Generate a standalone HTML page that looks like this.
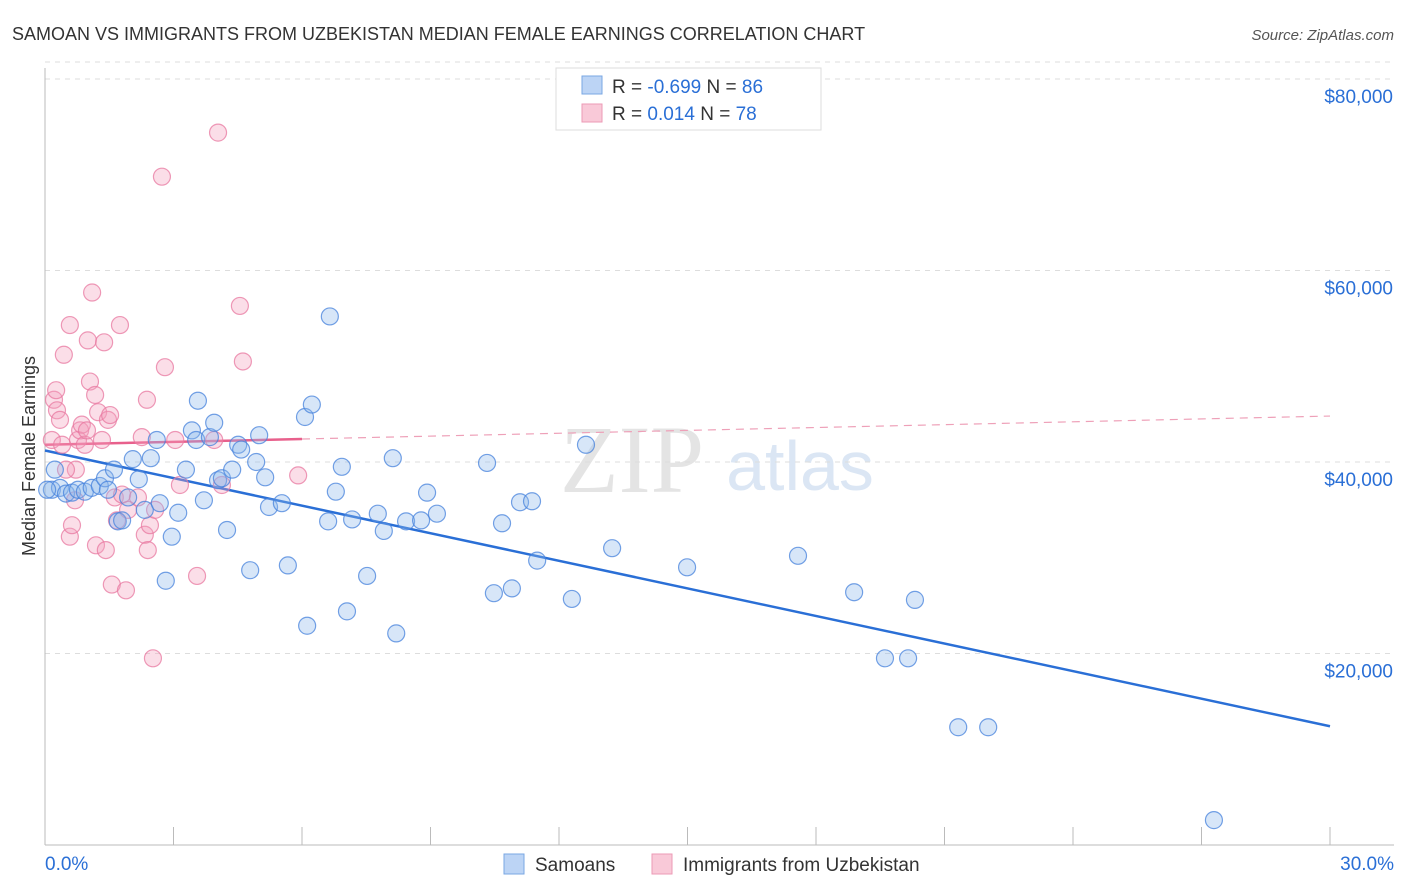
<!DOCTYPE html>
<html><head><meta charset="utf-8"><style>
body{margin:0;background:#fff;font-family:"Liberation Sans",sans-serif;}
svg{display:block}
</style></head><body>
<svg id="chart" width="1406" height="892">
<text x="12" y="40" font-size="18" fill="#333">SAMOAN VS IMMIGRANTS FROM UZBEKISTAN MEDIAN FEMALE EARNINGS CORRELATION CHART</text>
<text x="1394" y="40" font-size="15" fill="#555" font-style="italic" text-anchor="end">Source: ZipAtlas.com</text>
<text x="35" y="456" font-size="18" fill="#333" text-anchor="middle" transform="rotate(-90 35 456)">Median Female Earnings</text>
<g><text x="632" y="492" font-size="96" fill="#e4e4e4" font-family="Liberation Serif,serif" text-anchor="middle">ZIP</text><text x="800" y="490" font-size="70" fill="#dbe6f4" text-anchor="middle">atlas</text></g>
<g id="grid"></g><g id="axes"></g><g id="lines"></g><g id="pts"></g>
<g>
<rect x="556" y="68" width="265" height="62" fill="#fff" stroke="#ddd"/>
<rect x="582" y="76" width="20" height="18" fill="#bcd4f5" stroke="#7aa7e3"/>
<rect x="582" y="104" width="20" height="18" fill="#f9c9d8" stroke="#ec9ab6"/>
<text x="612" y="93" font-size="19" fill="#333">R = <tspan fill="#2a6fd6">-0.699</tspan>   N = <tspan fill="#2a6fd6">86</tspan></text>
<text x="612" y="120" font-size="19" fill="#333">R =   <tspan fill="#2a6fd6">0.014</tspan>   N = <tspan fill="#2a6fd6">78</tspan></text>
</g>
<g>
<rect x="504" y="854" width="20" height="20" fill="#bcd4f5" stroke="#7aa7e3"/>
<text x="535" y="871" font-size="19" fill="#333">Samoans</text>
<rect x="652" y="854" width="20" height="20" fill="#f9c9d8" stroke="#ec9ab6"/>
<text x="683" y="871" font-size="19" fill="#333">Immigrants from Uzbekistan</text>
</g>
</svg>
<script>
const yTicks=[20000,40000,60000,80000];
const yTickLabels=["$20,000","$40,000","$60,000","$80,000"];
const xTicks=[0,3,6,9,12,15,18,21,24,27,30];
const blueX=[0.16,0.23,0.35,0.49,0.63,0.77,0.93,1.09,1.28,1.40,1.47,1.61,1.70,1.80,1.94,2.05,2.19,2.33,2.47,2.61,2.68,2.82,2.96,3.11,3.29,3.43,3.53,3.57,3.71,3.85,3.95,4.04,4.13,4.25,4.37,4.51,4.58,4.79,4.93,5.00,5.14,5.23,5.53,5.67,6.07,6.12,6.23,6.65,6.61,6.79,6.93,7.05,7.17,7.52,7.77,7.91,8.12,8.20,8.43,8.78,8.92,9.15,10.32,10.48,10.67,10.90,11.09,11.37,11.49,12.30,12.63,13.24,14.99,17.58,18.89,19.61,20.15,20.31,21.32,22.02,27.29,0.05];
const blueY=[37.1,39.2,37.3,36.7,36.8,37.1,36.9,37.3,37.5,38.3,37.1,39.2,33.8,33.9,36.3,40.3,38.2,35.0,40.4,42.3,35.7,27.6,32.2,34.7,39.2,43.3,42.3,46.4,36.0,42.6,44.1,38.1,38.3,32.9,39.2,41.8,41.3,28.7,40.0,42.8,38.4,35.3,35.7,29.2,44.7,22.9,46.0,55.2,33.8,36.9,39.5,24.4,34.0,28.1,34.6,32.8,40.4,22.1,33.8,33.9,36.8,34.6,39.9,26.3,33.6,26.8,35.8,35.9,29.7,25.7,41.8,31.0,29.0,30.2,26.4,19.5,19.5,25.6,12.3,12.3,2.6,37.1];
const pinkX=[0.16,0.21,0.28,0.35,0.40,0.44,0.58,0.58,0.63,0.70,0.72,0.77,0.82,0.86,0.93,0.98,1.00,1.05,1.10,1.17,1.19,1.24,1.33,1.38,1.42,1.47,1.56,1.63,1.68,1.75,1.80,1.89,1.94,2.17,2.26,2.33,2.38,2.40,2.45,2.52,2.57,2.73,2.80,3.04,3.15,3.55,3.95,4.04,4.13,4.55,4.62,5.91,0.26,0.49,1.52];
const pinkY=[42.3,46.5,45.4,44.4,41.8,51.2,54.3,32.2,33.4,36.0,39.2,42.3,43.3,43.9,41.8,43.3,52.7,48.4,57.7,47.0,31.3,45.2,42.3,52.5,30.8,44.4,27.2,36.3,33.9,54.3,36.6,26.6,35.0,36.3,42.6,32.4,46.5,30.8,33.4,19.5,35.0,69.8,49.9,42.3,37.6,28.1,42.3,74.4,37.6,56.3,50.5,38.6,47.5,39.2,44.9];
const blueTrend=[41200,12400];
const pinkTrend=[41800,44800];
const pinkSolidEnd=6;
const NS="http://www.w3.org/2000/svg";
const X=v=>45+v/30*1285;
const Y=v=>845-v/20000*191.5;
function mk(p,t,a){const e=document.createElementNS(NS,t);for(const k in a)e.setAttribute(k,a[k]);document.getElementById(p).appendChild(e);return e;}
yTicks.forEach((t,i)=>{
 const g=mk('grid','line',{x1:45,x2:1394,y1:Y(t),y2:Y(t),stroke:'#ddd','stroke-dasharray':'5,5'});
 
 
 const l=mk('axes','text',{x:1393,y:Y(t)+24,'font-size':19,fill:'#2a6fd6','text-anchor':'end'});
 l.textContent=yTickLabels[i];
 
 
});
const tg=mk('grid','line',{x1:45,x2:1394,y1:Y(80000)-17,y2:Y(80000)-17,stroke:'#ddd','stroke-dasharray':'5,5'});


const ax=mk('axes','line',{x1:45,x2:1394,y1:845,y2:845,stroke:'#bbb'});


const ay=mk('axes','line',{x1:45,x2:45,y1:68,y2:845,stroke:'#bbb'});


xTicks.forEach(t=>{const e=mk('axes','line',{x1:X(t),x2:X(t),y1:827,y2:845,stroke:'#bbb'});
 
 });
const x0=mk('axes','text',{x:45,y:870,'font-size':19,fill:'#2a6fd6'});x0.textContent='0.0%';


const x1=mk('axes','text',{x:1394,y:870,'font-size':19,fill:'#2a6fd6','text-anchor':'end'});x1.textContent='30.0%';


const lerp=(tr,x)=>tr[0]+(tr[1]-tr[0])*x/30;
pinkX.forEach((v,i)=>{const c=mk('pts','circle',{cx:X(v),cy:Y(pinkY[i]*1000),r:8.5,fill:'rgba(244,160,188,0.35)',stroke:'rgba(232,120,160,0.75)','stroke-width':1.2});
 
 });
blueX.forEach((v,i)=>{const c=mk('pts','circle',{cx:X(v),cy:Y(blueY[i]*1000),r:8.5,fill:'rgba(140,182,236,0.35)',stroke:'rgba(70,130,220,0.75)','stroke-width':1.2});
 
 });
const bl=mk('lines','line',{x1:X(0),y1:Y(blueTrend[0]),x2:X(30),y2:Y(blueTrend[1]),stroke:'#2a6fd6','stroke-width':2.5});


const pl=mk('lines','line',{x1:X(0),y1:Y(pinkTrend[0]),x2:X(pinkSolidEnd),y2:Y(lerp(pinkTrend,pinkSolidEnd)),stroke:'#e8608c','stroke-width':2.5});


const pd=mk('lines','line',{x1:X(pinkSolidEnd),y1:Y(lerp(pinkTrend,pinkSolidEnd)),x2:X(30),y2:Y(pinkTrend[1]),stroke:'#eea0b8','stroke-width':1.2,'stroke-dasharray':'8,6'});


</script>
</body></html>
